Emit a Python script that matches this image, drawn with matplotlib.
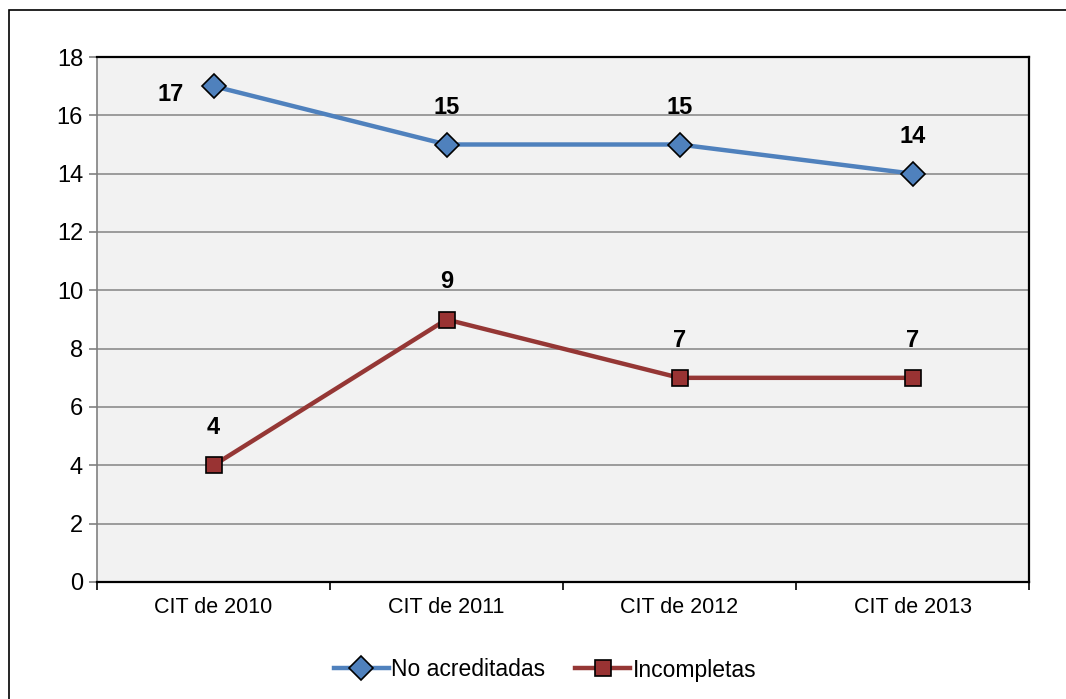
import matplotlib.pyplot as plt
from matplotlib.patches import Rectangle

categories = ["CIT de 2010", "CIT de 2011", "CIT de 2012", "CIT de 2013"]
no_acreditadas = [17, 15, 15, 14]
incompletas = [4, 9, 7, 7]
y_ticks = [0, 2, 4, 6, 8, 10, 12, 14, 16, 18]

plt.rcParams['font.family'] = ['Liberation Sans Narrow', 'Liberation Sans', 'DejaVu Sans']

fig = plt.figure(figsize=(10.66, 6.99), dpi=100)
# outer chart frame (only left and top visible in the reference)
fig.patches.append(Rectangle((9 / 1066, -0.1), 1.5, 1 - 10 / 699 + 0.1,
                             transform=fig.transFigure, fill=False,
                             edgecolor='black', linewidth=1.2))

ax = fig.add_axes([97 / 1066, 1 - 582 / 699, 932 / 1066, 525 / 699])
ax.set_facecolor('#f2f2f2')

x = [i + 0.5 for i in range(len(categories))]
blue, = ax.plot(x, no_acreditadas, color='#4f81bd', linewidth=3.2, marker='D',
                markersize=12, markerfacecolor='#4f81bd', markeredgecolor='black',
                markeredgewidth=1.2, label='No acreditadas', zorder=3)
red, = ax.plot(x, incompletas, color='#953735', linewidth=3.2, marker='s',
               markersize=11, markerfacecolor='#993333', markeredgecolor='black',
               markeredgewidth=1.2, label='Incompletas', zorder=3)

for i, v in enumerate(no_acreditadas):
    if i == 0:
        ax.annotate(str(v), (x[i], v), xytext=(-31, -6), textcoords='offset points',
                    ha='center', va='center', fontsize=17, fontweight='bold')
    else:
        ax.annotate(str(v), (x[i], v), xytext=(0, 27), textcoords='offset points',
                    ha='center', va='center', fontsize=17, fontweight='bold')
for i, v in enumerate(incompletas):
    ax.annotate(str(v), (x[i], v), xytext=(0, 27), textcoords='offset points',
                ha='center', va='center', fontsize=17, fontweight='bold')

ax.set_xlim(0, len(categories))
ax.set_ylim(0, 18)
ax.set_yticks(y_ticks)
ax.set_xticks(x)
ax.set_xticklabels(categories)
ax.set_xticks(range(len(categories) + 1), minor=True)
ax.tick_params(axis='x', which='major', length=0, labelsize=15.5, pad=11)
ax.tick_params(axis='x', which='minor', length=6, width=1.2, color='black', direction='out')
ax.tick_params(axis='y', length=6, width=1.2, color='#808080', labelsize=17, pad=4)
ax.yaxis.grid(True, color='#8c8c8c', linewidth=1.2)
ax.set_axisbelow(True)

ax.spines['left'].set_color('#808080')
ax.spines['left'].set_linewidth(1.2)
for s in ['bottom', 'right', 'top']:
    ax.spines[s].set_color('black')
    ax.spines[s].set_linewidth(1.6)

fig.legend(handles=[blue, red], loc='center', bbox_to_anchor=(545 / 1066, 1 - 670 / 699),
           ncol=2, frameon=False, fontsize=16.5, handlelength=2.4, columnspacing=1.3,
           handletextpad=0.1)

fig.savefig('out.png', dpi=100)
